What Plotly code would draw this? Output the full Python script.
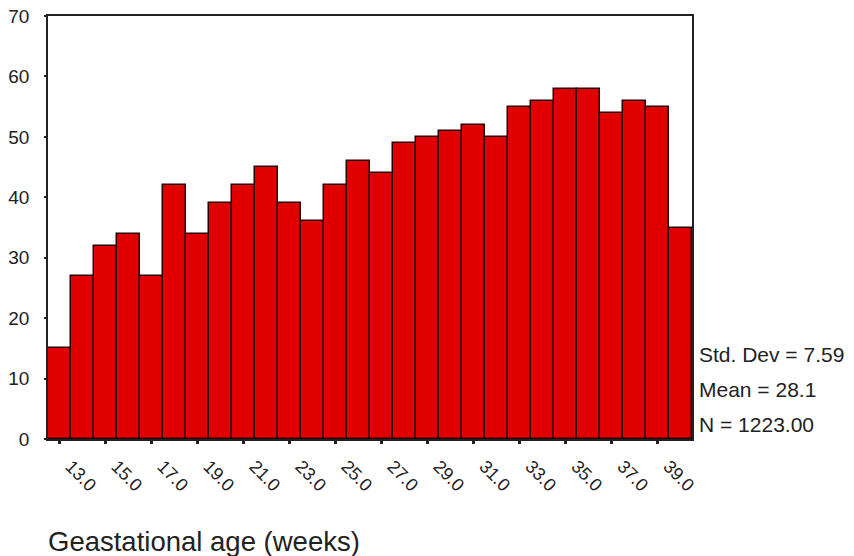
import plotly.graph_objects as go

weeks = list(range(13, 41))
counts = [15, 27, 32, 34, 27, 42, 34, 39, 42, 45, 39, 36, 42, 46, 44, 49,
          50, 51, 52, 50, 55, 56, 58, 58, 54, 56, 55, 35]
tick_vals = list(range(13, 40, 2))
tick_text = [f"{v}.0" for v in tick_vals]
y_ticks = list(range(0, 71, 10))
stats = ["Std. Dev = 7.59", "Mean = 28.1", "N = 1223.00"]
x_title = "Geastational age (weeks)"

fig = go.Figure(go.Bar(
    x=weeks, y=counts, width=1,
    marker=dict(color="#e00000", line=dict(color="#2a0000", width=1.5)),
))

fig.update_layout(
    width=854, height=556,
    margin=dict(l=48, r=162, t=16, b=117),
    paper_bgcolor="white", plot_bgcolor="white",
    bargap=0, showlegend=False,
    font=dict(family="Liberation Sans, Arial, sans-serif", color="#222", size=18),
)
fig.update_xaxes(
    range=[12.5, 40.5], tickvals=tick_vals, ticktext=tick_text,
    tickangle=45, ticks="outside", ticklen=3, tickwidth=3, tickcolor="#222",
    ticklabelshift=11, ticklabelstandoff=5, automargin=False,
    showline=True, linecolor="#222", linewidth=1.5, mirror=True,
    showgrid=False, zeroline=False, tickfont=dict(size=18),
)
fig.update_yaxes(
    range=[0, 70], tickvals=y_ticks, ticks="outside", ticklen=2, tickwidth=2,
    tickcolor="#222", ticklabelstandoff=11, automargin=False,
    showline=True, linecolor="#222", linewidth=1.5, mirror=True,
    showgrid=False, zeroline=False, tickfont=dict(size=19),
)

for i, s in enumerate(stats):
    fig.add_annotation(text=s, xref="paper", yref="paper", x=1.0, y=0.20 - i * 0.083,
                       xanchor="left", yanchor="middle", showarrow=False,
                       xshift=5, font=dict(size=21, color="#222"))

fig.add_annotation(text=x_title, xref="paper", yref="paper", x=0, y=0,
                   xanchor="left", yanchor="middle", showarrow=False,
                   yshift=-102, xshift=-2, font=dict(size=27.5, color="#222"))

fig.write_html("out.html")
